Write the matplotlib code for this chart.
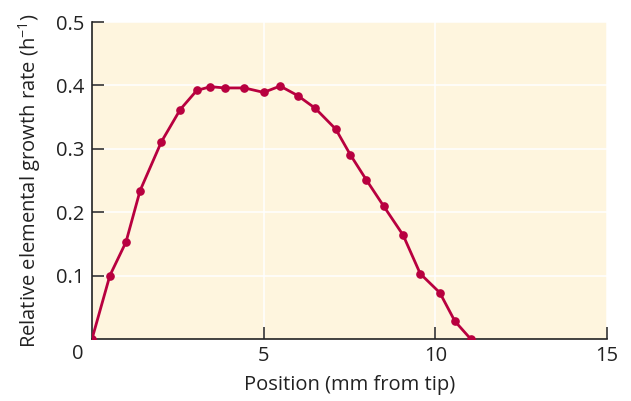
import matplotlib
matplotlib.use('Agg')
import matplotlib.pyplot as plt

# Data
position = [0.0, 0.52, 0.99, 1.40, 2.02, 2.57, 3.05, 3.45, 3.87, 4.44, 5.0, 5.48,
            5.99, 6.50, 7.10, 7.52, 7.99, 8.49, 9.06, 9.56, 10.13, 10.57, 11.03]
growth_rate = [0.0, 0.100, 0.153, 0.234, 0.311, 0.362, 0.392, 0.398, 0.396, 0.396, 0.389, 0.399,
               0.384, 0.364, 0.331, 0.291, 0.251, 0.210, 0.164, 0.103, 0.073, 0.028, 0.0]
x_ticks = [5, 10, 15]
y_ticks = [0.1, 0.2, 0.3, 0.4, 0.5]

plt.rcParams['font.family'] = ['Open Sans', 'DejaVu Sans']
plt.rcParams['mathtext.fontset'] = 'custom'
plt.rcParams['mathtext.rm'] = 'Open Sans'

fs = 14.5
fig = plt.figure(figsize=(6.31, 4.01), dpi=100)
ax = fig.add_axes([0.1458, 0.1546, 0.8162, 0.7905])
ax.set_facecolor('#fef5de')

line_color = '#b8003f'
ax.plot(position, growth_rate, color=line_color, linewidth=2.0,
        marker='o', markersize=5.2, zorder=3)

ax.set_xlim(0, 15)
ax.set_ylim(0, 0.5)
ax.set_xticks(x_ticks)
ax.set_yticks(y_ticks)
ax.set_yticklabels(['0.1', '0.2', '0.3', '0.4', '0.5'])

ax.grid(True, color='white', linewidth=1.1)
ax.set_axisbelow(True)

for side in ['top', 'right']:
    ax.spines[side].set_visible(False)
for side in ['left', 'bottom']:
    ax.spines[side].set_linewidth(1.2)
    ax.spines[side].set_color('#222222')

ax.tick_params(direction='in', length=8.5, width=1.1, colors='#222222',
               labelsize=fs, labelcolor='#222222')
ax.tick_params(axis='y', pad=5.5)
ax.tick_params(axis='x', pad=5)

# shared origin label
ax.annotate('0', xy=(0, 0), xycoords='axes fraction', xytext=(-6, -11),
            textcoords='offset points', ha='right', va='center',
            fontsize=fs, color='#222222')

ax.set_xlabel('Position (mm from tip)', fontsize=fs, color='#222222', labelpad=6.5)
ax.set_ylabel('Relative elemental growth rate (h$^{\\mathrm{-1}}$)', fontsize=fs,
              color='#222222', labelpad=9)

fig.savefig('out.png', dpi=100)
